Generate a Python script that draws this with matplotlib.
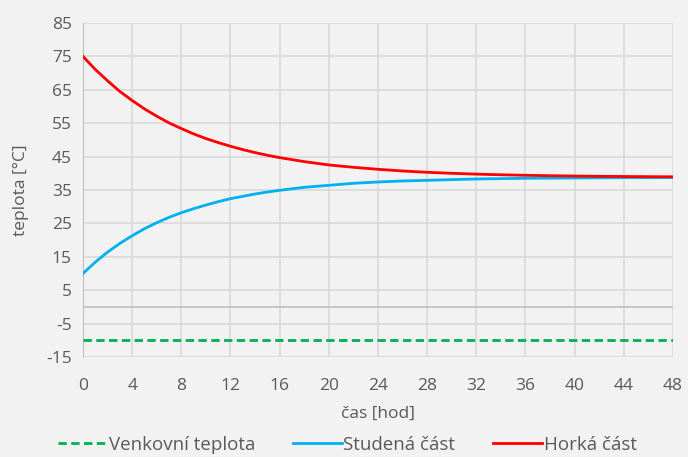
import numpy as np
import matplotlib
matplotlib.use("Agg")
import matplotlib.pyplot as plt

plt.rcParams['font.family'] = ['Open Sans', 'DejaVu Sans']
plt.rcParams['axes.unicode_minus'] = False

# time in hours
cas = [0, 1, 2, 3, 4, 5, 6, 7, 8, 9, 10, 11, 12, 13, 14, 15, 16, 18, 20, 22, 24,
       26, 28, 30, 32, 34, 36, 38, 40, 42, 44, 46, 48]
venkovni = [-10] * len(cas)
studena = [10.0, 13.4, 16.4, 19.0, 21.3, 23.4, 25.2, 26.8, 28.2, 29.4, 30.5, 31.5, 32.4,
           33.1, 33.8, 34.4, 34.9, 35.8, 36.4, 37.0, 37.4,
           37.7, 37.9, 38.1, 38.3, 38.4, 38.5, 38.55, 38.6, 38.65, 38.7, 38.7, 38.75]
horka = [75.0, 71.1, 67.7, 64.5, 61.8, 59.3, 57.1, 55.1, 53.4, 51.8, 50.4, 49.2, 48.1,
         47.1, 46.2, 45.4, 44.7, 43.5, 42.5, 41.8, 41.2,
         40.7, 40.3, 40.0, 39.75, 39.56, 39.4, 39.28, 39.18, 39.1, 39.04, 38.99, 38.95]

x_ticks = list(range(0, 49, 4))
y_ticks = list(range(-15, 86, 10))

bg = '#F2F2F2'
txt = '#595959'

fig = plt.figure(figsize=(6.88, 4.57), dpi=100, facecolor=bg)
ax = fig.add_axes([0.1206, 0.2188, 0.8574, 0.7309])
ax.set_facecolor(bg)

ax.plot(cas, venkovni, color='#00B050', lw=2, ls=(0, (3, 1.6)), label='Venkovní teplota', zorder=3)
ax.plot(cas, studena, color='#00B0F0', lw=2, label='Studená část', zorder=3)
ax.plot(cas, horka, color='#FF0000', lw=2, label='Horká část', zorder=3)
ax.axhline(0, color='#BFBFBF', lw=1.2, zorder=2)

ax.set_xlim(0, 48)
ax.set_ylim(-15, 85)
ax.set_xticks(x_ticks)
ax.set_yticks(y_ticks)
ax.grid(True, color='#D9D9D9', lw=1.2, zorder=1)
for s in ['top', 'right', 'bottom']:
    ax.spines[s].set_visible(False)
ax.spines['left'].set_color('#BFBFBF')
ax.tick_params(length=0, labelsize=12.5, colors=txt, pad=8)
ax.tick_params(axis='x', pad=15)

ax.set_xlabel('čas [hod]', fontsize=12.5, color=txt, labelpad=9)
ax.set_ylabel('teplota [°C]', fontsize=12.5, color=txt, labelpad=12)

fig.legend(loc='lower center', bbox_to_anchor=(0.505, -0.03), ncol=3, frameon=False,
           fontsize=13.5, labelcolor=txt, handlelength=2.6, handletextpad=0.1,
           columnspacing=2.0)

fig.savefig('out.png', dpi=100, facecolor=bg)
